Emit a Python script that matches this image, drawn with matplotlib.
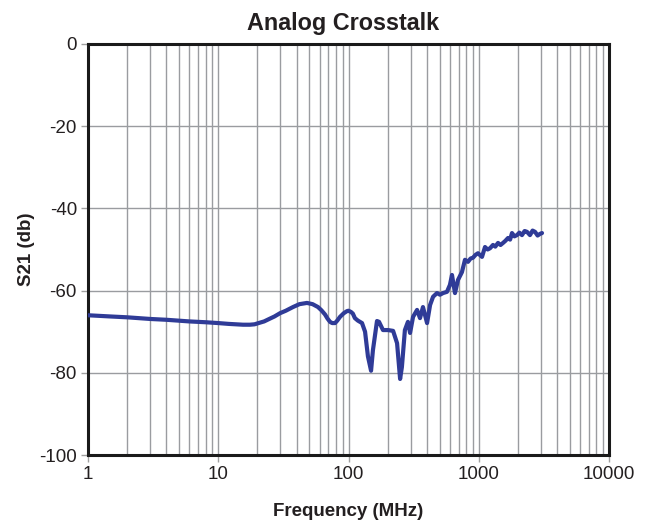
import matplotlib
matplotlib.use("Agg")
import matplotlib.pyplot as plt
from matplotlib.ticker import LogLocator, FixedLocator, NullFormatter

plt.rcParams['font.family'] = ['Liberation Sans', 'DejaVu Sans']
plt.rcParams['axes.unicode_minus'] = False

freq_mhz = [1, 1.5, 2, 3, 4, 6, 8, 10, 12, 15.5, 17.5, 19, 20.9, 22.5, 25, 27, 29.8, 33,
            37.5, 42, 48, 53, 58.3, 62, 66, 69, 72.1, 75, 78.8, 82, 86, 92, 97.3, 100,
            104.5, 108, 112, 118, 127, 134, 141, 149, 154, 165.5, 171.5, 184, 201, 220,
            236, 249, 257, 271, 286, 297, 313, 336, 354, 373, 401, 423, 446, 478, 504,
            532, 570, 601, 623, 657, 693, 743, 784, 827, 865, 903, 945, 987, 1059, 1117,
            1170, 1220, 1286, 1340, 1406, 1470, 1536, 1600, 1678, 1740, 1800, 1880, 1965,
            2050, 2147, 2250, 2346, 2474, 2590, 2704, 2830, 2954, 3060]
s21_db = [-66.0, -66.3, -66.5, -66.9, -67.1, -67.5, -67.7, -67.9, -68.1, -68.3, -68.3,
          -68.2, -67.8, -67.5, -66.8, -66.3, -65.5, -64.9, -64.0, -63.3, -63.0, -63.3,
          -64.0, -64.8, -65.8, -66.8, -67.6, -67.9, -67.9, -67.3, -66.4, -65.5, -65.0,
          -64.9, -65.2, -65.6, -66.7, -67.3, -67.9, -70.0, -76.0, -79.5, -74.5, -67.4,
          -67.6, -69.6, -69.6, -69.8, -72.8, -81.5, -78.6, -69.6, -67.6, -70.3, -66.4,
          -64.7, -66.7, -64.0, -67.9, -63.5, -61.5, -60.6, -61.0, -60.6, -60.3, -58.6,
          -56.2, -60.6, -57.4, -55.5, -52.5, -53.0, -52.2, -52.0, -51.3, -50.9, -51.8,
          -49.4, -50.0, -49.7, -48.9, -49.3, -48.4, -48.9, -48.4, -47.9, -47.2, -47.6,
          -46.0, -46.8, -46.5, -45.9, -46.5, -45.5, -45.7, -46.5, -45.4, -45.7, -46.6,
          -46.2, -46.0]

y_ticks = [0, -20, -40, -60, -80, -100]
x_ticks = [1, 10, 100, 1000, 10000]
x_tick_labels = ['1', '10', '100', '1000', '10000']

fig = plt.figure(figsize=(6.52, 5.27), dpi=100)
ax = fig.add_axes([88/652, 72/527, (609-88)/652, (455-44)/527])

ax.plot(freq_mhz, s21_db, color='#2f3b97', lw=3.0, solid_joinstyle='round',
        solid_capstyle='round', zorder=3)

ax.set_xscale('log')
ax.set_xlim(1, 10000)
ax.set_ylim(-100, 0)
ax.xaxis.set_major_locator(FixedLocator(x_ticks))
ax.set_xticklabels(x_tick_labels)
ax.xaxis.set_minor_locator(LogLocator(base=10, subs=range(2, 10), numticks=20))
ax.xaxis.set_minor_formatter(NullFormatter())
ax.set_yticks(y_ticks)
ax.set_yticklabels([str(v) for v in y_ticks])

ax.grid(True, which='major', axis='both', color='#9a9ca0', lw=1.0, zorder=1)
ax.grid(True, which='minor', axis='x', color='#9a9ca0', lw=1.0, zorder=1)
ax.set_axisbelow(True)

ax.tick_params(which='major', direction='out', length=5, width=1, color='#a0a0a0',
               labelsize=13.5, labelcolor='#231f20', pad=3)
ax.tick_params(which='minor', length=0)

for sp in ax.spines.values():
    sp.set_linewidth(2.2)
    sp.set_color('#1a1a1a')

ax.set_title('Analog Crosstalk', fontsize=16.8, fontweight='bold', pad=10,
             color='#231f20', x=0.49)
ax.set_xlabel('Frequency (MHz)', fontsize=13.5, fontweight='bold', labelpad=14, color='#231f20')
ax.set_ylabel('S21 (db)', fontsize=13.5, fontweight='bold', labelpad=3, color='#231f20')

fig.savefig('out.png', dpi=100)
